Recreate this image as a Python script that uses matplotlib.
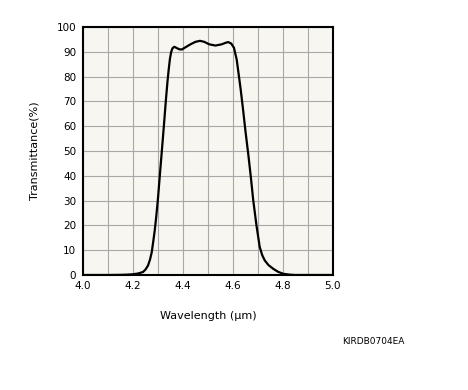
import matplotlib.pyplot as plt
import numpy as np

# wavelength (um) and transmittance (%)
wavelength = [4.00, 4.10, 4.15, 4.18, 4.20, 4.22, 4.24, 4.25, 4.26, 4.268, 4.275,
              4.281, 4.287, 4.293, 4.300, 4.308, 4.317, 4.325, 4.332, 4.338,
              4.343, 4.348, 4.353, 4.358, 4.365, 4.375, 4.385, 4.395, 4.410,
              4.430, 4.450, 4.468, 4.485, 4.505, 4.530, 4.555, 4.570, 4.581,
              4.593, 4.604, 4.615, 4.624, 4.631, 4.640, 4.650, 4.662, 4.672,
              4.681, 4.694, 4.707, 4.717, 4.727, 4.742, 4.761, 4.780, 4.801,
              4.825, 4.848, 5.00]
transmittance = [0.0, 0.0, 0.05, 0.15, 0.3, 0.6, 1.2, 2.2, 3.8, 6.2, 9.2,
                 13.5, 18.0, 23.5, 31.0, 41.0, 52.0, 62.0, 71.0, 78.0,
                 83.0, 87.3, 90.0, 91.4, 92.0, 91.5, 91.0, 90.9, 91.8,
                 93.0, 94.0, 94.4, 94.0, 93.0, 92.5, 93.0, 93.6, 93.9,
                 93.3, 91.6, 86.8, 80.0, 74.7, 67.0, 58.0, 48.0, 39.0,
                 30.2, 20.0, 11.3, 8.0, 5.9, 4.0, 2.5, 1.3, 0.5,
                 0.15, 0.0, 0.0]

xticks = np.arange(4.0, 5.01, 0.1)
xlabels = ['4.0', '', '4.2', '', '4.4', '', '4.6', '', '4.8', '', '5.0']
yticks = np.arange(0, 101, 10)

fig = plt.figure(figsize=(4.68, 3.90), dpi=100)
ax = fig.add_axes([0.1774, 0.2949, 0.534, 0.636])
ax.set_facecolor('#f7f6f0')

ax.plot(wavelength, transmittance, color='black', linewidth=1.6)

ax.set_xlim(4.0, 5.0)
ax.set_ylim(0, 100)
ax.set_xticks(xticks)
ax.set_xticklabels(xlabels)
ax.set_yticks(yticks)
ax.grid(True, color='#a8a8a8', linewidth=0.8)
ax.tick_params(length=0, labelsize=7.5)
ax.tick_params(axis='x', pad=4)
ax.tick_params(axis='y', pad=5)
for s in ax.spines.values():
    s.set_linewidth(1.5)
    s.set_color('black')

ax.set_ylabel('Transmittance(%)', fontsize=8, labelpad=12)
ax.set_xlabel('Wavelength (μm)', fontsize=8, labelpad=15)
fig.text(0.73, 0.118, 'KIRDB0704EA', fontsize=6.5)

fig.savefig('out.png', dpi=100)
